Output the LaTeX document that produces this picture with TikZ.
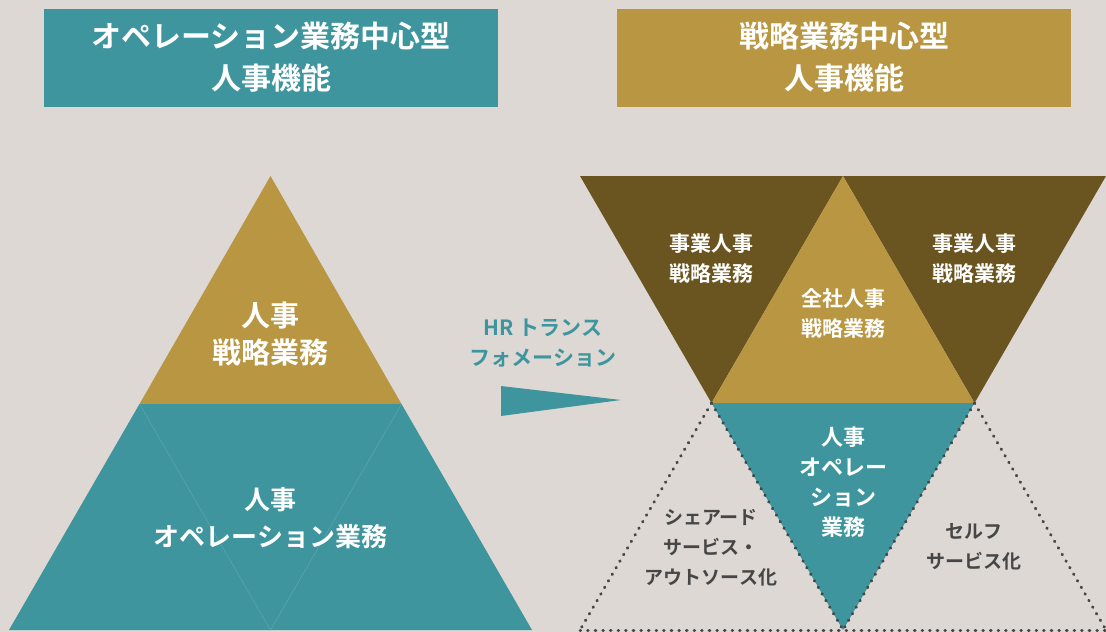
\documentclass[tikz,border=0pt]{standalone}
\usepackage{fontspec}
\setmainfont{Noto Sans CJK JP}[BoldFont={Noto Sans CJK JP Bold}]
\definecolor{bg}{HTML}{DDD8D4}
\definecolor{teal}{HTML}{3E959D}
\definecolor{gold}{HTML}{B99641}
\definecolor{brown}{HTML}{6A5520}
\definecolor{dotgray}{HTML}{464646}
\definecolor{faint}{HTML}{5BA7AE}
\begin{document}
\begin{tikzpicture}[x=1pt,y=-1pt,
  wlbl/.style 2 args={font=\bfseries\fontsize{#1}{#2}\selectfont, text=white, align=center, inner sep=0pt},
  glbl/.style 2 args={font=\bfseries\fontsize{#1}{#2}\selectfont, text=dotgray, align=center, inner sep=0pt},
  tlbl/.style 2 args={font=\bfseries\fontsize{#1}{#2}\selectfont, text=teal, align=center, inner sep=0pt},
  dotline/.style={draw=dotgray, line width=3pt, line cap=round, dash pattern=on 0.6pt off 7pt},
  hdr/.style={minimum width=454pt, minimum height=98pt, inner sep=0pt, text=white, align=center,
     font=\bfseries\fontsize{30}{42}\selectfont}
]
\fill[bg] (0,0) rectangle (1106,632);
\useasboundingbox (0,0) rectangle (1106,632);

% headers
\node[hdr, fill=teal] (h1) at (271,57.5) {オペレーション業務中心型\\人事機能};
\node[hdr, fill=gold] (h2) at (844,57.5) {戦略業務中心型\\人事機能};

% left pyramid
\coordinate (A) at (270.5,176);
\coordinate (BL) at (9,630);
\coordinate (BR) at (532,630);
\coordinate (ML) at (139.5,404);
\coordinate (MR) at (401.5,404);
\coordinate (MB) at (270.5,630);
\fill[gold] (A) -- (ML) -- (MR) -- cycle;
\fill[teal] (ML) -- (MR) -- (BR) -- (BL) -- cycle;
\draw[faint, line width=0.5pt] (ML) -- (MB) -- (MR);
\node[wlbl={29}{37}] (lt) at (270.5,334) {人事\\戦略業務};
\node[wlbl={26}{37}] (lb) at (270.5,518) {人事\\オペレーション業務};

% arrow
\coordinate (a1) at (501,386);
\coordinate (a2) at (501,416);
\coordinate (a3) at (621,400);
\fill[teal] (a1) -- (a3) -- (a2) -- cycle;
\node[tlbl={21}{30}] (hr) at (543,343) {HR トランス\\フォメーション};

% right figure
\coordinate (T1) at (580,176);
\coordinate (T2) at (843,176);
\coordinate (T3) at (1106,176);
\coordinate (M1) at (711.5,403);
\coordinate (M2) at (974.5,403);
\coordinate (B1) at (580,630);
\coordinate (B2) at (843,630);
\coordinate (B3) at (1106,630);
\fill[brown] (T1) -- (T2) -- (M1) -- cycle;
\fill[brown] (T2) -- (T3) -- (M2) -- cycle;
\fill[gold] (T2) -- (M2) -- (M1) -- cycle;
\fill[teal] (M1) -- (M2) -- (B2) -- cycle;
\draw[dotline] (M1) -- (B1);
\draw[dotline] (M1) -- (B2);
\draw[dotline] (M2) -- (B2);
\draw[dotline] (M2) -- (B3);
\draw[dotline] (B1) -- (B3);

\node[wlbl={21}{30}] (r1) at (711.5,259) {事業人事\\戦略業務};
\node[wlbl={21}{30}] (r2) at (974.5,259) {事業人事\\戦略業務};
\node[wlbl={21}{30}] (r3) at (843,313) {全社人事\\戦略業務};
\node[wlbl={22}{30}] (r4) at (843,482) {人事\\オペレー\\ション\\業務};
\node[glbl={19}{30}] (r5) at (711,548) {シェアード\\サービス・\\アウトソース化};
\node[glbl={19}{30}] (r6) at (974,547) {セルフ\\サービス化};
\end{tikzpicture}
\end{document}
